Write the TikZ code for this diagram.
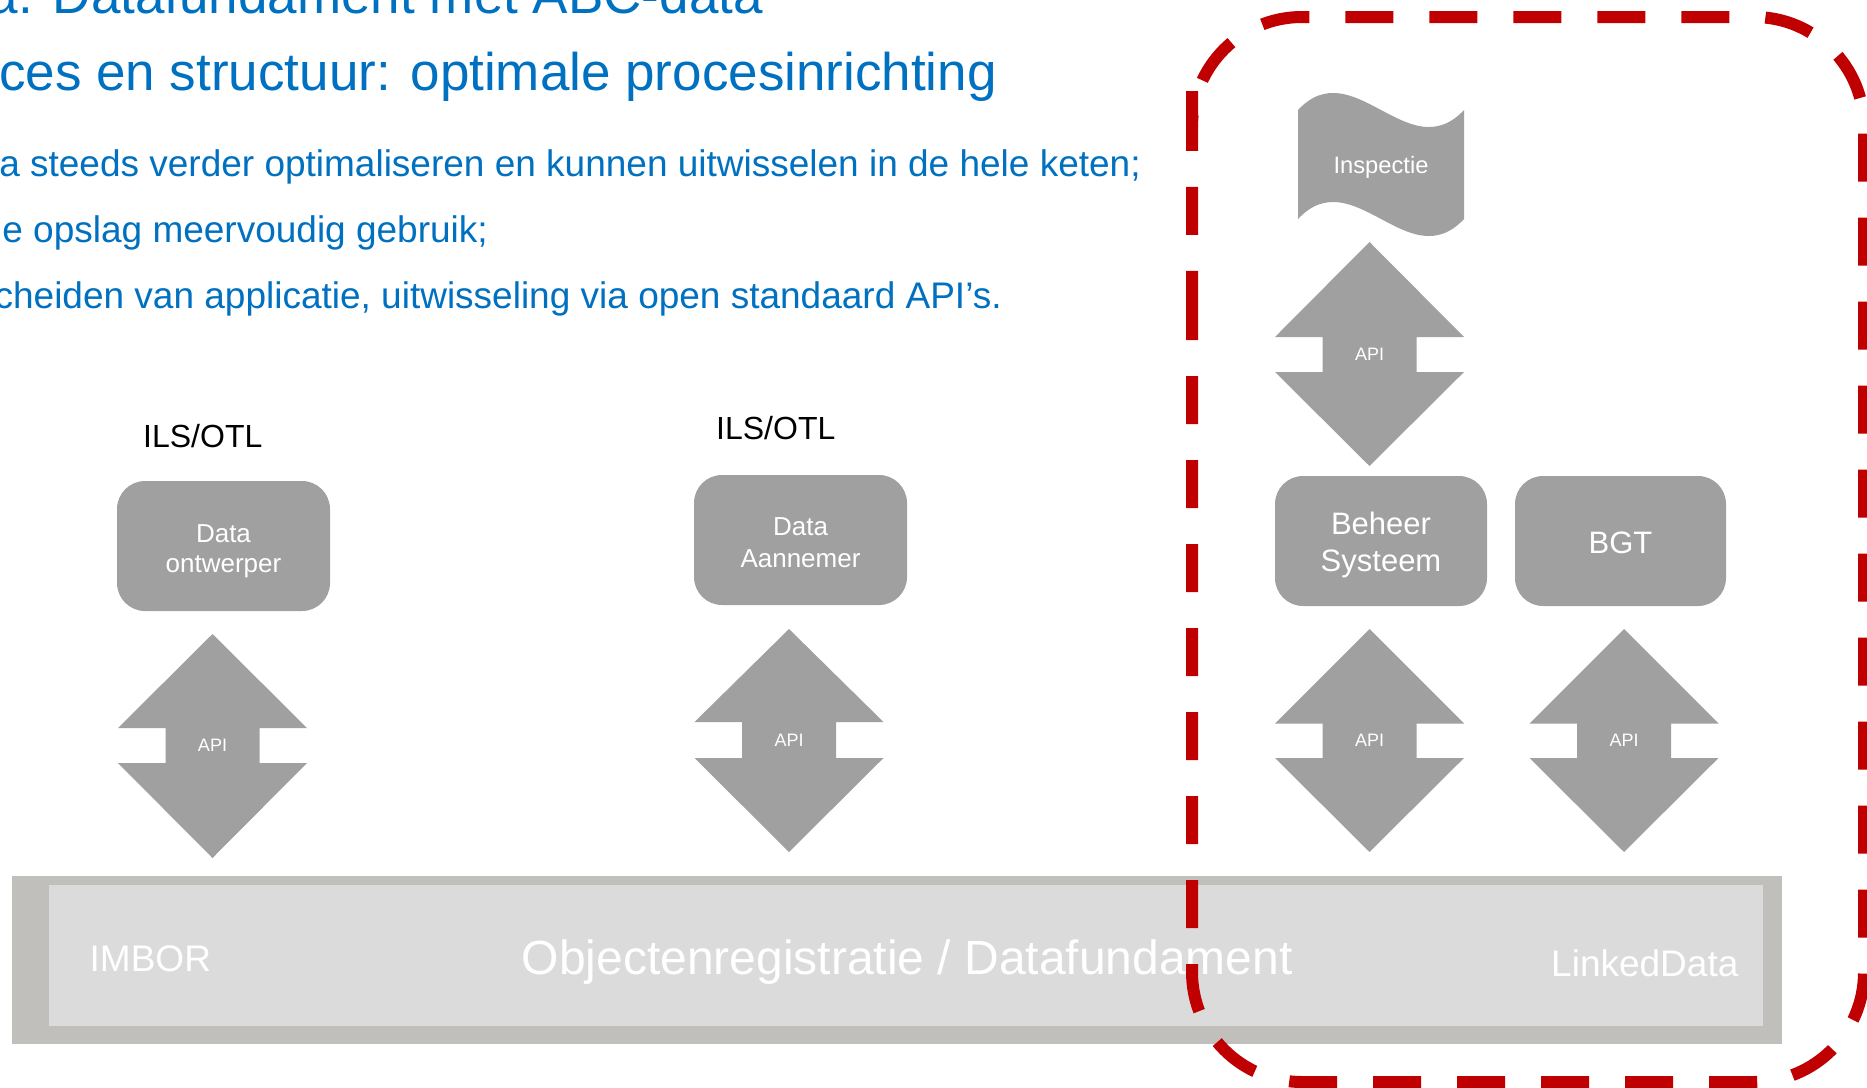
\documentclass[tikz,border=0pt]{standalone}
\usepackage{fontspec}
\setmainfont{Liberation Sans}
\definecolor{tblue}{HTML}{0070C0}
\definecolor{boxgrey}{HTML}{A0A0A0}
\definecolor{barout}{HTML}{C0BFBC}
\definecolor{barin}{HTML}{DBDBDB}
\definecolor{dred}{HTML}{C00000}
\newcommand\fsz[1]{\fontsize{#1}{#1}\selectfont}
% name, cx, tip, head base, lower head, bottom tip
\newcommand\apiarrow[6]{%
  \fill[boxgrey] (#2,#3) -- (#2+94.5,#4) -- (#2+47,#4) -- (#2+47,#5) -- (#2+94.5,#5)
     -- (#2,#6) -- (#2-94.5,#5) -- (#2-47,#5) -- (#2-47,#4) -- (#2-94.5,#4) -- cycle;
  \node[apitext] (#1) at (#2,{(#4+#5)/2}) {API};
}
\begin{document}
\begin{tikzpicture}[x=1pt,y=-1pt,
  title/.style={inner sep=0, text=tblue, anchor=base east},
  box/.style={fill=boxgrey, draw=none, rounded corners=28pt, inner sep=0, minimum height=130pt},
  boxtext/.style={inner sep=0, text=white, anchor=base},
  apitext/.style={inner sep=0, text=white, font=\fsz{18}},
  ilstext/.style={inner sep=0, text=black, anchor=base west, font=\fsz{32}},
  bartext/.style={inner sep=0, text=white, anchor=base west},
  redbox/.style={draw=dred, line width=12pt, dash pattern=on 48pt off 36pt, dash phase=7pt, rounded corners=110pt}
]
\useasboundingbox (0,0) rectangle (1867,1087);
\clip (0,0) rectangle (1867,1087);

% title text
\node[title, font=\fsz{53}] (t1) at (763,13) {a. Datafundament met ABC-data};
\node[title, font=\fsz{53}] (t2) at (997,90) {ces en structuur: optimale procesinrichting};
\node[title, font=\fsz{37}] (t3) at (1141,176) {a steeds verder optimaliseren en kunnen uitwisselen in de hele keten;};
\node[title, font=\fsz{37}] (t4) at (488,242) {e opslag meervoudig gebruik;};
\node[title, font=\fsz{37}] (t5) at (1002,308) {cheiden van applicatie, uitwisseling via open standaard API’s.};

% ILS/OTL labels
\node[ilstext] (ils1) at (143,447) {ILS/OTL};
\node[ilstext] (ils2) at (716,439) {ILS/OTL};

% boxes
\node[box, minimum width=213pt] (ontw) at (223.5,546) {};
\node[boxtext, font=\fsz{26}] (ontw1) at (223.5,542) {Data};
\node[boxtext, font=\fsz{26}] (ontw2) at (223.5,572) {ontwerper};

\node[box, minimum width=213pt] (aann) at (800.5,540) {};
\node[boxtext, font=\fsz{26}] (aann1) at (800.5,535) {Data};
\node[boxtext, font=\fsz{26}] (aann2) at (800.5,567) {Aannemer};

\node[box, minimum width=212pt] (beh) at (1381,541) {};
\node[boxtext, font=\fsz{31}] (beh1) at (1381,534) {Beheer};
\node[boxtext, font=\fsz{31}] (beh2) at (1381,571) {Systeem};

\node[box, minimum width=211pt] (bgt) at (1620.5,541) {};
\node[boxtext, font=\fsz{31}] (bgt1) at (1620.5,553.5) {BGT};

% Inspectie (punched tape shape)
\fill[boxgrey] (1298,110) .. controls (1353.3,51) and (1408.7,169) .. (1464,110)
  -- (1464,219) .. controls (1408.7,278) and (1353.3,160) .. (1298,219) -- cycle;
\node[boxtext, font=\fsz{23.7}] (insp) at (1381,173) {Inspectie};

% API arrows
\apiarrow{api1}{212.5}{634}{728}{763}{858}
\apiarrow{api2}{789}{629}{722}{758}{852}
\apiarrow{api3}{1369.5}{242}{337}{372}{466}
\apiarrow{api4}{1369.5}{629}{723.5}{758}{852}
\apiarrow{api5}{1624}{629}{723.5}{758}{852}

% bar
\node[fill=barout, inner sep=0, minimum width=1770pt, minimum height=168pt] (barO) at (897,960) {};
\node[fill=barin, inner sep=0, minimum width=1714pt, minimum height=141pt] (barI) at (906,955.5) {};
\node[bartext, font=\fsz{37}] (imbor) at (89.5,971) {IMBOR};
\node[bartext, font=\fsz{48}] (objreg) at (521.5,974) {Objectenregistratie / Datafundament};
\node[bartext, font=\fsz{37}] (linked) at (1551,976) {LinkedData};

% red dashed frame
\draw[redbox] (1192,189) -- (1192,1082) -- (1864,1082) -- (1864,17) -- (1192,17) -- cycle;
\end{tikzpicture}
\end{document}
